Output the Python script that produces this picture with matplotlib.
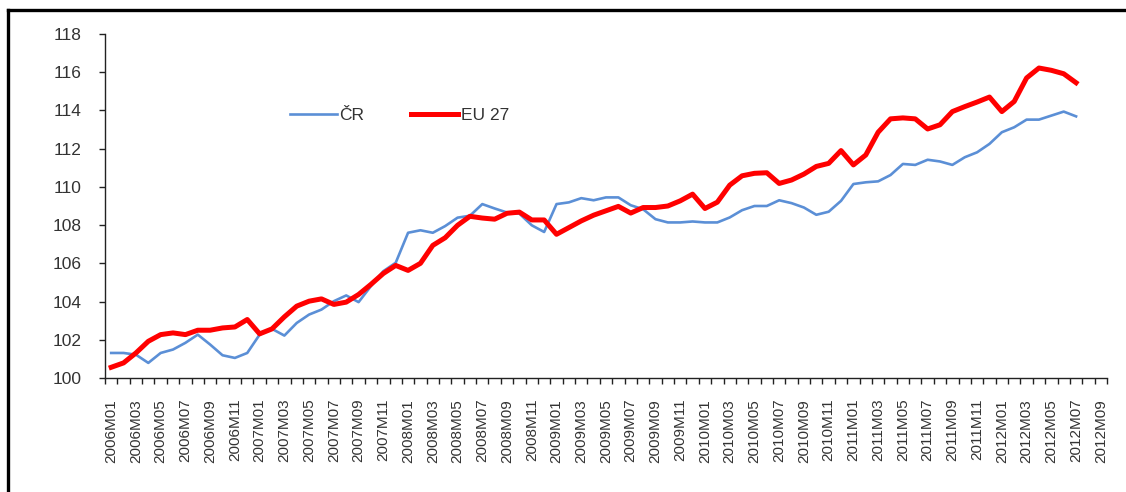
import numpy as np
import matplotlib
matplotlib.use('Agg')
import matplotlib.pyplot as plt
from matplotlib.lines import Line2D

plt.rcParams['font.family'] = ['Liberation Sans', 'DejaVu Sans']

# monthly index, 2006M01 .. 2012M07
cr = [101.31, 101.31, 101.22, 100.79, 101.31, 101.49, 101.84, 102.27, 101.75, 101.19,
      101.05, 101.31, 102.27, 102.57, 102.22, 102.88, 103.32, 103.58, 104.02, 104.32,
      103.97, 104.81, 105.59, 106.03, 107.60, 107.73, 107.60, 107.95, 108.39, 108.49,
      109.10, 108.87, 108.66, 108.60, 107.99, 107.64, 109.10, 109.19, 109.41, 109.30,
      109.45, 109.45, 109.04, 108.83, 108.31, 108.14, 108.14, 108.19, 108.14, 108.14,
      108.40, 108.78, 109.00, 109.00, 109.30, 109.15, 108.92, 108.54, 108.70, 109.27,
      110.15, 110.24, 110.29, 110.62, 111.20, 111.15, 111.42, 111.33, 111.15, 111.55,
      111.81, 112.25, 112.86, 113.12, 113.52, 113.52, 113.73, 113.94, 113.69]
eu27 = [100.56, 100.79, 101.31, 101.92, 102.27, 102.36, 102.27, 102.50, 102.50, 102.62,
        102.67, 103.06, 102.31, 102.57, 103.20, 103.76, 104.02, 104.14, 103.85, 103.97,
        104.37, 104.90, 105.47, 105.89, 105.63, 106.00, 106.94, 107.34, 107.99, 108.46,
        108.37, 108.31, 108.62, 108.68, 108.27, 108.27, 107.52, 107.87, 108.22, 108.52,
        108.75, 108.98, 108.63, 108.92, 108.92, 109.00, 109.27, 109.62, 108.87, 109.20,
        110.09, 110.58, 110.71, 110.74, 110.18, 110.36, 110.67, 111.07, 111.23, 111.90,
        111.15, 111.67, 112.86, 113.56, 113.61, 113.56, 113.03, 113.25, 113.94, 114.20,
        114.44, 114.70, 113.94, 114.47, 115.70, 116.22, 116.10, 115.92, 115.45]

# category axis runs to 2012M09
months = ['%dM%02d' % (2006 + k // 12, k % 12 + 1) for k in range(81)]

fig = plt.figure(figsize=(11.26, 4.92), dpi=100)
ax = fig.add_axes([105 / 1126, 114 / 492, 1002 / 1126, 344 / 492])

x = np.arange(len(cr))
ax.plot(x, cr, color='#5b8fd6', lw=1.9, label='ČR')
ax.plot(x, eu27, color='#ff0000', lw=3.6, label='EU 27')

ax.set_xlim(-0.5, len(months) - 0.5)
ax.set_ylim(100, 118)
ax.set_yticks(np.arange(100, 119, 2))

ax.set_xticks(np.arange(0, len(months), 2))
ax.set_xticklabels(months[::2], rotation=90, fontsize=11, color='#333333')
ax.set_xticks(np.arange(-0.5, len(months), 1), minor=True)
ax.tick_params(axis='x', which='major', length=0, pad=15)
ax.tick_params(axis='x', which='minor', length=4, width=1, direction='out', color='#222222')
ax.tick_params(axis='y', length=4, width=1, direction='out', pad=13, labelsize=12.5,
               labelcolor='#333333', color='#222222')

for s in ['top', 'right']:
    ax.spines[s].set_visible(False)
for s in ['left', 'bottom']:
    ax.spines[s].set_color('#222222')
    ax.spines[s].set_linewidth(1)

leg = fig.legend(loc='center left', bbox_to_anchor=(290 / 1126, 1 - 115 / 492), ncol=2,
                 frameon=False, fontsize=12.5, handlelength=2.7, handletextpad=0.15,
                 columnspacing=2.7, borderpad=0, borderaxespad=0)
for t in leg.get_texts():
    t.set_color('#333333')

# chart area border (only top and left visible)
fig.add_artist(Line2D([8 / 1126, 1], [1 - 10 / 492, 1 - 10 / 492], color='black', lw=2.4,
                      transform=fig.transFigure))
fig.add_artist(Line2D([8 / 1126, 8 / 1126], [0, 1 - 10 / 492], color='black', lw=2.4,
                      transform=fig.transFigure))

fig.savefig('out.png', dpi=100)
